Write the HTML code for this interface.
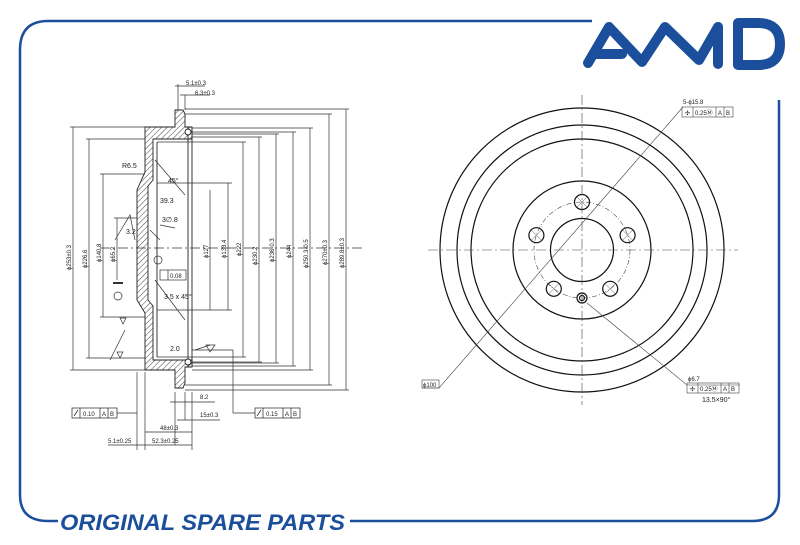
<!DOCTYPE html>
<html><head><meta charset="utf-8"><style>
html,body{margin:0;padding:0;background:#fff;width:800px;height:545px;overflow:hidden}
svg{display:block}
text{font-family:"Liberation Sans",sans-serif;fill:#222;stroke:none}
</style></head><body>
<svg width="800" height="545" viewBox="0 0 800 545" xmlns="http://www.w3.org/2000/svg">
<defs>
<pattern id="h" width="4" height="4" patternUnits="userSpaceOnUse" patternTransform="rotate(45)">
<rect width="4" height="4" fill="#fff"/><line x1="0" y1="0" x2="0" y2="4" stroke="#444" stroke-width="1"/></pattern>
</defs>
<g fill="none" stroke="#1b4f9c" stroke-width="2.5">
<path d="M592,21 L48,21 Q20,21 20,50 L20,495 Q20,521 48,521 L58,521"/>
<path d="M350,521 L752,521 Q779,521 779,495 L779,100"/>
</g>
<g fill="none" stroke="#1b4f9c" stroke-width="10" stroke-linecap="round" stroke-linejoin="round">
<path d="M588,63 L609,27 L642,62 L665,27 L699,60 L718,27 L718,64"/>
<path d="M597,54 L622,54"/>
<path d="M738,23 L738,65 L758,65 Q780,65 780,44 Q780,23 758,23 Z"/>
</g>
<text x="60" y="530" style="font-size:22px;font-weight:bold;font-style:italic;fill:#1b4f9c" textLength="285" lengthAdjust="spacingAndGlyphs">ORIGINAL SPARE PARTS</text>

<g stroke="#222" stroke-width="0.9">
<path fill="url(#h)" d="M145,127 L175,127 L175,110 L183,110 L185,114 L185,127 L192,127 L192,139 L153,139 L153,180 L148,186 L148,300 L153,306 L153,360 L192,360 L192,367 L185,367 L185,383 L183,388 L175,388 L175,370 L145,370 L145,313 L137,300 L137,190 L145,172 Z"/>
<line x1="188" y1="127" x2="188" y2="367"/>
<line x1="192" y1="127" x2="192" y2="367"/>
<line x1="157" y1="142" x2="157" y2="357"/>
<circle cx="188" cy="132" r="3" fill="#fff"/><circle cx="188" cy="362" r="3" fill="#fff"/>
</g>
<g stroke="#333" stroke-width="0.7" fill="none">
<line x1="100" y1="248" x2="365" y2="248" stroke-dasharray="10,3,2,3"/>
<path d="M228,183 V310 M210,190 V310 M243,142 V357 M259,137 V362 M276,134 V363 M293,132 V366 M310,128 V370 M329,114 V385 M346,109 V390"/>
<path d="M157,142 H246 M157,357 H246 M192,137 H262 M192,362 H262 M192,134 H279 M192,363 H279 M192,132 H296 M192,366 H296 M192,128 H313 M192,370 H313 M185,114 H332 M185,385 H332 M185,109 H349 M185,390 H349 M157,183 H232 M157,310 H232"/>
<path d="M73,127 V370 M89,139 V358 M103,174 V317 M117,218 V280"/>
<path d="M70,127 H145 M86,139 H145 M100,174 H145 M100,317 H145 M114,218 H137 M86,358 H145 M70,370 H145"/>
<path d="M175,86 H205 M180,95 H210 M185,95 V110 M178,84 V110"/>
<path d="M175,392 V445 M185,392 V420 M192,392 V450 M145,372 V450 M137,372 V450 M170,402 H215 M177,420 H220 M145,432 H192 M108,445 H137 M137,445 H192"/>
<path d="M117,413 H137 M233,413 H255 M233,413 V350 M233,350 H192"/>
<path d="M155,160 L185,195 M155,280 L185,320 M125,330 L110,360 M195,350 L210,345 M115,240 L130,215 L135,240 M150,230 L160,240 M160,225 L175,228"/>
<text x="122" y="168" style="font-size:7px">R6.5</text>
<text x="168" y="183" style="font-size:7px">45°</text>
<text x="160" y="203" style="font-size:7px">39.3</text>
<text x="162" y="222" style="font-size:7px">3∅.8</text>
<text x="164" y="299" style="font-size:7px">3.5 x 45°</text>
<text x="170" y="351" style="font-size:7px">2.0</text>
<text x="126" y="234" style="font-size:7px">3.2</text>
<rect x="160" y="270" width="26" height="10"/><line x1="168" y1="270" x2="168" y2="280"/>
<text x="170" y="278" style="font-size:6px">0.08</text>
<circle cx="158" cy="260" r="4"/><circle cx="118" cy="296" r="4"/>
<line x1="113" y1="283" x2="123" y2="283" stroke-width="2"/>
<path d="M206,345 L215,345 L210,352 Z M120,318 L126,318 L123,324 Z M117,352 L123,352 L120,358 Z"/>
</g>
<g style="font-size:6px">
<text transform="translate(71,270) rotate(-90)">ϕ253±0.3</text>
<text transform="translate(87,268) rotate(-90)">ϕ226.6</text>
<text transform="translate(101,262) rotate(-90)">ϕ140.8</text>
<text transform="translate(115,262) rotate(-90)">ϕ65.2</text>
<text transform="translate(208,258) rotate(-90)">ϕ127</text>
<text transform="translate(226,258) rotate(-90)">ϕ138.4</text>
<text transform="translate(241,256) rotate(-90)">ϕ222</text>
<text transform="translate(257,265) rotate(-90)">ϕ230.2</text>
<text transform="translate(274,262) rotate(-90)">ϕ236-0.3</text>
<text transform="translate(291,258) rotate(-90)">ϕ244</text>
<text transform="translate(308,268) rotate(-90)">ϕ250.3-0.5</text>
<text transform="translate(327,265) rotate(-90)">ϕ270±0.3</text>
<text transform="translate(344,268) rotate(-90)">ϕ289.8±0.3</text>
<text x="186" y="85">5.1±0.3</text>
<text x="195" y="95">6.3±0.3</text>
<text x="200" y="399">8.2</text>
<text x="200" y="417">15±0.3</text>
<text x="160" y="430">48±0.3</text>
<text x="108" y="443">5.1±0.25</text>
<text x="152" y="443">52.3±0.25</text>
</g>
<g stroke="#222" stroke-width="0.7" fill="none">
<rect x="72" y="408" width="45" height="10"/><path d="M80,408V418 M100,408V418 M108,408V418 M74,416 L78,410"/>
<rect x="255" y="408" width="45" height="10"/><path d="M263,408V418 M283,408V418 M291,408V418 M257,416 L261,410"/>
</g>
<g style="font-size:6px">
<text x="83" y="416">0.10</text><text x="102" y="416">A</text><text x="110" y="416">B</text>
<text x="266" y="416">0.15</text><text x="285" y="416">A</text><text x="293" y="416">B</text>
</g>

<g stroke="#111" fill="none" stroke-width="1.2">
<circle cx="582" cy="250" r="142"/>
<circle cx="582" cy="250" r="125"/>
<circle cx="582" cy="250" r="111"/>
<circle cx="582" cy="250" r="69"/>
<circle cx="582" cy="250" r="31.5"/>
<circle cx="582" cy="202" r="7.5"/>
<circle cx="627.6" cy="235.2" r="7.5"/>
<circle cx="536.4" cy="235.2" r="7.5"/>
<circle cx="610.2" cy="288.8" r="7.5"/>
<circle cx="553.8" cy="288.8" r="7.5"/>
<circle cx="582" cy="298" r="5"/><circle cx="582" cy="298" r="2.5"/>
</g>
<g stroke="#555" stroke-width="0.5">
<path d="M577,197 L587,207 M587,197 L577,207 M622.6,230.2 L632.6,240.2 M632.6,230.2 L622.6,240.2 M531.4,230.2 L541.4,240.2 M541.4,230.2 L531.4,240.2 M605.2,283.8 L615.2,293.8 M615.2,283.8 L605.2,293.8 M548.8,283.8 L558.8,293.8 M558.8,283.8 L548.8,293.8"/>
</g>
<g stroke="#444" fill="none" stroke-width="0.6">
<circle cx="582" cy="250" r="48" stroke-dasharray="5,2,1,2"/>
<line x1="582" y1="95" x2="582" y2="405" stroke-dasharray="10,3,2,3"/>
<line x1="428" y1="250" x2="738" y2="250" stroke-dasharray="10,3,2,3"/>
<path d="M683,107 L439,388 L422,388 M587,303 L687,385 L740,385"/>
<rect x="682" y="107" width="51" height="10"/><path d="M693,107V117 M716,107V117 M724,107V117"/>
<rect x="687" y="383" width="52" height="10"/><path d="M698,383V393 M721,383V393 M729,383V393"/>
<rect x="422" y="380" width="17" height="8"/>
</g>
<g style="font-size:6px">
<text x="683" y="104">5-ϕ15.8</text>
<text x="685" y="115">✣</text><text x="695" y="115">0.25Ⓜ</text><text x="718" y="115">A</text><text x="726" y="115">B</text>
<text x="688" y="381">ϕ6.7</text>
<text x="690" y="391">✣</text><text x="700" y="391">0.25Ⓜ</text><text x="723" y="391">A</text><text x="731" y="391">B</text>
<text x="702" y="402" style="font-size:7px">13.5×90°</text>
<text x="423" y="387">ϕ100</text>
</g>
</svg>
</body></html>
